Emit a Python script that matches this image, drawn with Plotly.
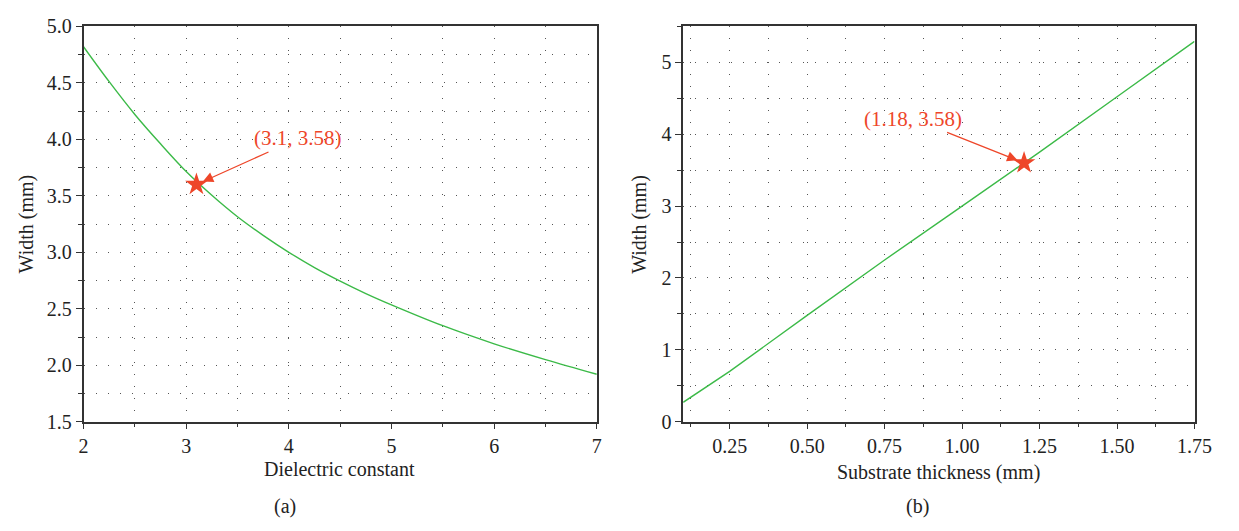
import plotly.graph_objects as go

# Panel (a): width vs dielectric constant
eps_r = [2.0, 2.25, 2.5, 2.75, 3.0, 3.25, 3.5, 3.75, 4.0, 4.25, 4.5, 4.75, 5.0, 5.5, 6.0, 6.5, 7.0]
width_a = [4.82, 4.51, 4.22, 3.96, 3.715, 3.505, 3.315, 3.15, 3.00, 2.865, 2.745, 2.635, 2.535,
           2.35, 2.19, 2.05, 1.92]
mark_a = (3.1, 3.6)
label_a = "(3.1, 3.58)"

# Panel (b): width vs substrate thickness
thick = [0.1, 0.25, 0.5, 0.75, 1.0, 1.25, 1.5, 1.75]
width_b = [0.27, 0.70, 1.48, 2.25, 3.00, 3.75, 4.52, 5.29]
mark_b = (1.2, 3.6)
label_b = "(1.18, 3.58)"

GREEN = "#3cba48"
RED = "#ee4629"
FONT = "Liberation Serif"
TXT = "#222222"
GRIDC = "#555555"

fig = go.Figure()
fig.add_trace(go.Scatter(x=eps_r, y=width_a, mode="lines",
                         line=dict(color=GREEN, width=1.4, shape="spline", smoothing=1.0),
                         xaxis="x", yaxis="y", showlegend=False))
fig.add_trace(go.Scatter(x=[mark_a[0]], y=[mark_a[1]], mode="markers",
                         marker=dict(symbol="star", size=17, color=RED, line=dict(width=0)),
                         xaxis="x", yaxis="y", showlegend=False))
fig.add_trace(go.Scatter(x=thick, y=width_b, mode="lines", line=dict(color=GREEN, width=1.4),
                         xaxis="x2", yaxis="y2", showlegend=False))
fig.add_trace(go.Scatter(x=[mark_b[0]], y=[mark_b[1]], mode="markers",
                         marker=dict(symbol="star", size=17, color=RED, line=dict(width=0)),
                         xaxis="x2", yaxis="y2", showlegend=False))

W, H = 1239, 531
grid = dict(showgrid=True, gridcolor=GRIDC, gridwidth=1, griddash="1px,11px")
axis_common = dict(showline=True, linecolor="#333333", linewidth=1.5, mirror=True,
                   ticks="outside", ticklen=6, tickwidth=1.2, tickcolor="#333333",
                   zeroline=False, tickfont=dict(family=FONT, size=20, color=TXT), **grid)
minor_common = dict(tick0=0, ticks="outside", ticklen=4, tickcolor="#333333",
                    showgrid=True, gridcolor=GRIDC, griddash="1px,11px")

ydom = [1 - 428.5 / H, 1 - 16 / H]

fig.update_layout(
    width=W, height=H, margin=dict(l=0, r=0, t=0, b=0),
    paper_bgcolor="white", plot_bgcolor="white",
    xaxis=dict(domain=[80 / W, 603 / W], range=[2, 7], dtick=1, tick0=0, anchor="y",
               minor=dict(dtick=0.5, **minor_common), **axis_common),
    yaxis=dict(domain=ydom, range=[1.5, 5], dtick=0.5, tick0=0, tickformat=".1f", anchor="x",
               minor=dict(dtick=0.25, **minor_common), **axis_common),
    xaxis2=dict(domain=[691 / W, 1212 / W], range=[0.1, 1.75], dtick=0.25, tick0=0, tickformat=".2f",
                anchor="y2", minor=dict(dtick=0.125, **minor_common), **axis_common),
    yaxis2=dict(domain=ydom, range=[0, 5.5], dtick=1, tick0=0, anchor="x2",
                minor=dict(dtick=0.5, **minor_common), **axis_common),
)

def txt(x, y, s, angle=0, size=20, color=TXT):
    fig.add_annotation(xref="paper", yref="paper", x=x / W, y=1 - y / H, text=s, showarrow=False,
                       textangle=angle, font=dict(family=FONT, size=size, color=color),
                       xanchor="center", yanchor="middle")

txt(22, 222, "Width (mm)", angle=-90)
txt(647, 222, "Width (mm)", angle=-90)
txt(341, 478, "Dielectric constant")
txt(951, 481, "Substrate thickness (mm)")
txt(285, 517, "(a)")
txt(930, 517, "(b)")

fig.add_annotation(xref="x", yref="y", x=mark_a[0], y=mark_a[1], text=label_a,
                   showarrow=True, arrowhead=2, arrowsize=1.6, arrowwidth=1.3, arrowcolor=RED,
                   standoff=7, ax=102, ay=-46, font=dict(family=FONT, size=21, color=RED))
fig.add_annotation(xref="x2", yref="y2", x=mark_b[0], y=mark_b[1], text=label_b,
                   showarrow=True, arrowhead=2, arrowsize=1.6, arrowwidth=1.3, arrowcolor=RED,
                   standoff=7, ax=-111, ay=-44, font=dict(family=FONT, size=21, color=RED))

fig.write_html("out.html")
